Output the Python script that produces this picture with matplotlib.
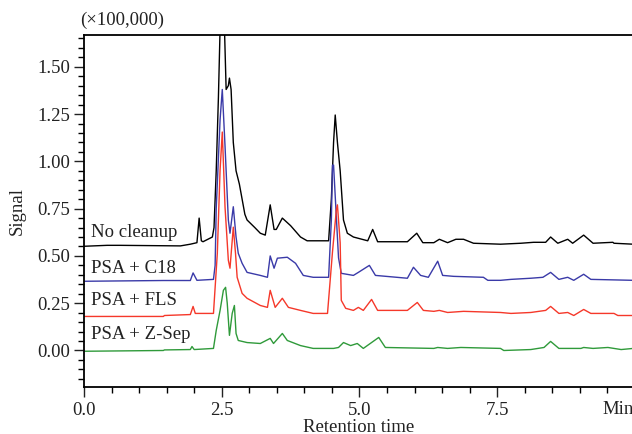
import matplotlib
matplotlib.use("Agg")
import matplotlib.pyplot as plt
from matplotlib.ticker import MultipleLocator

plt.rcParams['font.family'] = ['Liberation Serif', 'DejaVu Serif']

# ---- data (retention time in min, signal in x100,000) ----
t_black = [0.00, 0.42, 0.65, 1.75, 1.93, 2.05, 2.09, 2.13, 2.16, 2.33, 2.36, 2.40, 2.44, 2.47,
           2.51, 2.55, 2.58, 2.62, 2.64, 2.67, 2.71, 2.76, 2.82, 2.87, 2.92, 2.96, 3.10, 3.20,
           3.29, 3.38, 3.45, 3.49, 3.60, 3.75, 3.93, 4.05, 4.44, 4.49, 4.53, 4.56, 4.60, 4.65,
           4.71, 4.78, 4.89, 5.15, 5.24, 5.33, 5.87, 6.04, 6.15, 6.35, 6.45, 6.60, 6.75, 6.89,
           7.07, 7.56, 7.93, 8.16, 8.38, 8.47, 8.60, 8.78, 8.87, 9.07, 9.24, 9.60, 9.62, 9.97]
v_black = [0.551, 0.556, 0.556, 0.553, 0.562, 0.570, 0.700, 0.580, 0.575, 0.600, 0.650, 0.950,
           1.340, 1.700, 1.850, 1.700, 1.380, 1.400, 1.440, 1.380, 1.100, 0.950, 0.880, 0.800,
           0.720, 0.690, 0.650, 0.620, 0.610, 0.770, 0.640, 0.640, 0.700, 0.660, 0.600, 0.580,
           0.580, 0.800, 1.100, 1.245, 1.100, 0.950, 0.690, 0.620, 0.600, 0.580, 0.640, 0.575,
           0.575, 0.620, 0.570, 0.570, 0.588, 0.570, 0.588, 0.588, 0.567, 0.562, 0.567, 0.572,
           0.572, 0.600, 0.567, 0.588, 0.567, 0.610, 0.567, 0.572, 0.567, 0.562]

t_blue = [0.00, 1.44, 1.93, 1.98, 2.05, 2.35, 2.38, 2.40, 2.47, 2.51, 2.56, 2.62, 2.65, 2.71,
          2.76, 2.80, 2.87, 2.96, 3.20, 3.33, 3.38, 3.45, 3.51, 3.69, 3.84, 3.98, 4.16, 4.44,
          4.49, 4.51, 4.53, 4.62, 4.67, 4.89, 4.98, 5.18, 5.29, 5.87, 5.98, 6.11, 6.25, 6.42,
          6.51, 6.71, 7.25, 7.33, 7.56, 7.75, 8.11, 8.33, 8.47, 8.62, 8.78, 8.89, 9.07, 9.20, 9.97]
v_blue = [0.366, 0.370, 0.370, 0.410, 0.371, 0.376, 0.450, 0.750, 1.220, 1.380, 1.080, 0.690,
          0.620, 0.760, 0.600, 0.514, 0.461, 0.413, 0.397, 0.387, 0.500, 0.435, 0.488, 0.493,
          0.461, 0.397, 0.387, 0.387, 0.689, 0.980, 0.980, 0.490, 0.408, 0.397, 0.413, 0.450,
          0.397, 0.382, 0.440, 0.397, 0.387, 0.472, 0.397, 0.392, 0.387, 0.371, 0.371, 0.376,
          0.382, 0.387, 0.413, 0.376, 0.387, 0.371, 0.403, 0.376, 0.371]

t_red = [0.00, 1.44, 1.46, 1.93, 1.98, 2.02, 2.35, 2.42, 2.47, 2.51, 2.56, 2.62, 2.65, 2.71,
         2.75, 2.78, 2.87, 2.96, 3.20, 3.33, 3.38, 3.47, 3.60, 3.71, 3.93, 4.16, 4.42, 4.51,
         4.58, 4.60, 4.65, 4.67, 4.75, 4.89, 4.98, 5.07, 5.22, 5.33, 5.87, 6.05, 6.16, 6.35,
         6.45, 6.60, 6.89, 7.56, 7.75, 8.11, 8.38, 8.47, 8.62, 8.78, 8.89, 9.07, 9.20, 9.62,
         9.69, 9.97]
v_red = [0.180, 0.180, 0.185, 0.190, 0.233, 0.196, 0.196, 0.514, 0.954, 1.155, 0.758, 0.477,
         0.435, 0.652, 0.514, 0.387, 0.302, 0.276, 0.238, 0.228, 0.318, 0.228, 0.276, 0.228,
         0.212, 0.196, 0.196, 0.520, 0.742, 0.770, 0.570, 0.265, 0.223, 0.212, 0.228, 0.212,
         0.270, 0.212, 0.212, 0.254, 0.212, 0.207, 0.212, 0.201, 0.207, 0.201, 0.196, 0.201,
         0.212, 0.233, 0.196, 0.201, 0.185, 0.217, 0.196, 0.196, 0.185, 0.185]

t_green = [0.00, 1.44, 1.46, 1.93, 1.96, 2.00, 2.35, 2.40, 2.47, 2.53, 2.57, 2.60, 2.64, 2.69,
           2.73, 2.76, 2.80, 2.96, 3.20, 3.38, 3.44, 3.60, 3.69, 3.93, 4.16, 4.44, 4.53, 4.62,
           4.71, 4.84, 4.96, 5.07, 5.35, 5.47, 6.35, 6.42, 6.60, 6.84, 7.56, 7.62, 8.11, 8.35,
           8.47, 8.62, 9.02, 9.07, 9.24, 9.51, 9.75, 9.97]
v_green = [-0.004, 0.000, 0.003, 0.005, 0.021, 0.005, 0.011, 0.106, 0.212, 0.318, 0.334, 0.250,
           0.080, 0.196, 0.238, 0.090, 0.053, 0.042, 0.037, 0.064, 0.037, 0.090, 0.053, 0.026,
           0.011, 0.011, 0.011, 0.016, 0.042, 0.026, 0.037, 0.011, 0.069, 0.016, 0.011, 0.016,
           0.011, 0.016, 0.011, 0.000, 0.005, 0.016, 0.048, 0.011, 0.011, 0.016, 0.011, 0.016,
           0.005, 0.011]

series_labels = ["No cleanup", "PSA + C18", "PSA + FLS", "PSA + Z-Sep"]
label_y = [0.626, 0.436, 0.262, 0.082]
x_ticks = [0.0, 2.5, 5.0, 7.5]
x_ticklabels = ["0.0", "2.5", "5.0", "7.5"]
y_ticks = [0.00, 0.25, 0.50, 0.75, 1.00, 1.25, 1.50]
y_ticklabels = ["0.00", "0.25", "0.50", "0.75", "1.00", "1.25", "1.50"]

colors = ["#000000", "#3a3aa8", "#f5382a", "#2f9a3a"]

fig = plt.figure(figsize=(6.32, 4.34), dpi=100)
ax = fig.add_axes([84/632, 1 - 387/434, 1 - 84/632 + 0.002, (387 - 35)/434])

for (tt, vv), c in zip([(t_black, v_black), (t_blue, v_blue), (t_red, v_red), (t_green, v_green)], colors):
    ax.plot(tt, vv, color=c, lw=1.0, solid_joinstyle='round')

ax.set_xlim(0, 9.97)
ax.set_ylim(-0.193, 1.668)

ax.set_xticks(x_ticks)
ax.set_xticklabels(x_ticklabels)
ax.set_yticks(y_ticks)
ax.set_yticklabels(y_ticklabels)
ax.xaxis.set_minor_locator(MultipleLocator(0.5))
ax.yaxis.set_minor_locator(MultipleLocator(0.05))
ax.tick_params(axis='both', which='major', direction='out', length=7, width=1.0,
               labelsize=13.5, colors='#222222')
ax.tick_params(axis='both', which='minor', direction='out', length=4, width=1.0)
ax.tick_params(axis='x', pad=4)
ax.tick_params(axis='y', pad=3)

for s in ['left', 'bottom', 'top']:
    ax.spines[s].set_linewidth(1.3)
ax.spines['right'].set_visible(False)

for lab, ly in zip(series_labels, label_y):
    ax.text(0.13, ly, lab, fontsize=13.5, ha='left', va='center', color='#222222')

# "Min" replaces the 10.0 tick label, partly cut at the right edge as in the reference
ax.text(9.41, -0.268, "Min", fontsize=13.5, ha='left', va='top', color='#222222',
        transform=ax.transData, clip_on=False)

ax.set_xlabel("Retention time", fontsize=13.5, labelpad=0, color='#222222')
ax.set_ylabel("Signal", fontsize=13.5, labelpad=8, color='#222222')
fig.text(80/632, 1 - 20/434, "(×100,000)", fontsize=13.5, ha='left', va='center', color='#222222')

fig.savefig("out.png", dpi=100)
